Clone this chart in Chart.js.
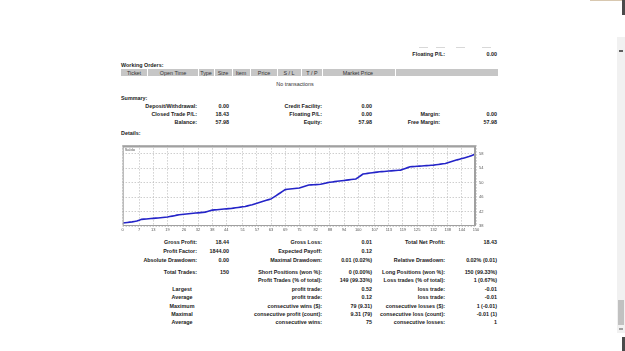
<!DOCTYPE html>
<html>
<head>
<meta charset="utf-8">
<script src="https://cdn.jsdelivr.net/npm/chart.js@4/dist/chart.umd.min.js"></script>
<style>
  html, body { margin: 0; padding: 0; background: #fff; }
  body { width: 625px; height: 351px; position: relative; overflow: hidden;
         font-family: "Liberation Sans", Arial, sans-serif; color: #222; }
  .t { position: absolute; white-space: nowrap; font-size: 5.4px; line-height: 6px; font-weight: bold; }
  .n { font-weight: normal; color: #333; }
  .box { position: absolute; }
  #chartWrap { position: absolute; left: 112px; top: 140px; width: 390px; height: 96px; }
</style>
</head>
<body>
<div id="chartWrap"><canvas id="saldoChart" width="390" height="96"></canvas></div>

<script>
// Balance curve (one value per closed trade)
const balance = [
  38.82, 38.90, 38.99, 39.07, 39.15, 39.26, 39.37, 39.62, 39.84, 39.90,
  39.95, 40.01, 40.06, 40.12, 40.18, 40.23, 40.29, 40.35, 40.41, 40.47,
  40.61, 40.73, 40.86, 41.00, 41.13, 41.19, 41.25, 41.32, 41.38, 41.45,
  41.51, 41.58, 41.64, 41.71, 41.77, 41.84, 42.03, 42.21, 42.39, 42.45,
  42.51, 42.57, 42.63, 42.69, 42.75, 42.80, 42.86, 42.95, 43.05, 43.14,
  43.23, 43.32, 43.41, 43.57, 43.72, 43.87, 44.08, 44.28, 44.49, 44.69,
  44.89, 45.10, 45.30, 45.50, 45.92, 46.35, 46.78, 47.21, 47.64, 48.07,
  48.15, 48.23, 48.30, 48.38, 48.46, 48.53, 48.74, 48.95, 49.15, 49.36,
  49.39, 49.43, 49.46, 49.50, 49.53, 49.69, 49.84, 50.00, 50.09, 50.18,
  50.28, 50.37, 50.46, 50.54, 50.61, 50.69, 50.77, 50.85, 50.92, 51.00,
  51.46, 51.91, 52.37, 52.46, 52.56, 52.65, 52.74, 52.83, 52.91, 53.00,
  53.05, 53.10, 53.16, 53.21, 53.26, 53.31, 53.37, 53.42, 53.47, 53.70,
  53.93, 54.15, 54.38, 54.43, 54.47, 54.52, 54.56, 54.61, 54.66, 54.70,
  54.75, 54.79, 54.84, 54.93, 55.02, 55.12, 55.21, 55.30, 55.50, 55.70,
  55.90, 56.10, 56.30, 56.48, 56.66, 56.84, 57.02, 57.20, 57.46, 57.72,
  57.98
];

// Axis tick labels
const xTicks = [0, 7, 13, 19, 26, 32, 38, 44, 51, 57, 63, 69, 75, 82, 88, 94, 100, 107, 113, 119, 125, 132, 138, 144, 150];
const yTicks = [38, 42, 46, 50, 54, 58];

// Report tables
const orderHeaders = ['Ticket', 'Open Time', 'Type', 'Size', 'Item', 'Price', 'S / L', 'T / P', 'Market Price', ''];
const summaryRows = [
  ['Deposit/Withdrawal:', '0.00', 'Credit Facility:', '0.00', '', ''],
  ['Closed Trade P/L:', '18.43', 'Floating P/L:', '0.00', 'Margin:', '0.00'],
  ['Balance:', '57.98', 'Equity:', '57.98', 'Free Margin:', '57.98']
];
const detailRows = [
  ['Gross Profit:', '18.44', 'Gross Loss:', '0.01', 'Total Net Profit:', '18.43'],
  ['Profit Factor:', '1844.00', 'Expected Payoff:', '0.12', '', ''],
  ['Absolute Drawdown:', '0.00', 'Maximal Drawdown:', '0.01 (0.02%)', 'Relative Drawdown:', '0.02% (0.01)'],
  ['Total Trades:', '150', 'Short Positions (won %):', '0 (0.00%)', 'Long Positions (won %):', '150 (99.33%)'],
  ['', '', 'Profit Trades (% of total):', '149 (99.33%)', 'Loss trades (% of total):', '1 (0.67%)']
];
const streakRows = [
  ['Largest', 'profit trade:', '0.52', 'loss trade:', '-0.01'],
  ['Average', 'profit trade:', '0.12', 'loss trade:', '-0.01'],
  ['Maximum', 'consecutive wins ($):', '79 (9.31)', 'consecutive losses ($):', '1 (-0.01)'],
  ['Maximal', 'consecutive profit (count):', '9.31 (79)', 'consecutive loss (count):', '-0.01 (1)'],
  ['Average', 'consecutive wins:', '75', 'consecutive losses:', '1']
];

// petit helper pour poser un texte
function put(text, x, y, align, cls) {
  if (text === '') return;
  const d = document.createElement('div');
  d.className = 't' + (cls ? ' ' + cls : '');
  d.textContent = text;
  d.style.top = (y - 3) + 'px';
  if (align === 'r') {
    d.style.left = (x - 200) + 'px'; d.style.width = '200px'; d.style.textAlign = 'right';
  } else if (align === 'c') {
    d.style.left = (x - 100) + 'px'; d.style.width = '200px'; d.style.textAlign = 'center';
  } else {
    d.style.left = x + 'px';
  }
  document.body.appendChild(d);
}
function rect(x, y, w, h, color) {
  const d = document.createElement('div');
  d.className = 'box';
  d.style.cssText += `left:${x}px;top:${y}px;width:${w}px;height:${h}px;background:${color};`;
  document.body.appendChild(d);
}

// bout de ligne coupé en haut
[419, 436, 456, 482].forEach(x => rect(x, 47, 9, 1, '#d8d8d8'));
put('Floating P/L:', 445, 54, 'r');
put('0.00', 497, 54, 'r');

// Working orders
put('Working Orders:', 121, 65, 'l');
rect(121, 69, 377, 7, '#c6c6c6');
const sepX = [147, 198, 214, 232, 250, 277, 301, 322, 395];
sepX.forEach(x => rect(x, 69, 1, 7, '#fff'));
const colMid = [134, 173, 206, 223, 241, 264, 289, 312, 358];
orderHeaders.forEach((h, i) => { if (i < colMid.length) put(h, colMid[i], 72.5, 'c', 'n'); });
put('No transactions', 295, 84, 'c', 'n');

// Summary
put('Summary:', 121, 97.5, 'l');
const sumY = [105.7, 114, 122.3];
summaryRows.forEach((r, i) => {
  put(r[0], 197, sumY[i], 'r'); put(r[1], 229, sumY[i], 'r');
  put(r[2], 322, sumY[i], 'r'); put(r[3], 372, sumY[i], 'r');
  put(r[4], 440, sumY[i], 'r'); put(r[5], 497, sumY[i], 'r');
});
put('Details:', 121, 132.5, 'l');

// Details
const detY = [242.3, 250.7, 259.5, 271.5, 280];
detailRows.forEach((r, i) => {
  put(r[0], 197, detY[i], 'r'); put(r[1], 229, detY[i], 'r');
  put(r[2], 322, detY[i], 'r'); put(r[3], 372, detY[i], 'r');
  put(r[4], 445, detY[i], 'r'); put(r[5], 497, detY[i], 'r');
});
const strY = [288.8, 297.2, 305.5, 313.8, 322.2];
streakRows.forEach((r, i) => {
  put(r[0], 182, strY[i], 'c');
  put(r[1], 322, strY[i], 'r'); put(r[2], 372, strY[i], 'r');
  put(r[3], 445, strY[i], 'r'); put(r[4], 497, strY[i], 'r');
});

// barre de défilement du navigateur
rect(617, 37, 8, 296, '#f1f1f1');
rect(619, 50, 4, 2, '#606060');
rect(619, 328, 4, 2, '#a0a0a0');
rect(618, 300, 6, 25, '#c1c1c1');
rect(622, 0, 3, 15, '#4a4a4a');
rect(622, 337, 3, 14, '#4a4a4a');
rect(590, 0, 32, 1, '#d8c8b0');

// Cadre + libellé "Saldo"
const framePlugin = {
  id: 'frame',
  afterDraw(chart) {
    const { ctx, chartArea: a } = chart;
    ctx.save();
    ctx.strokeStyle = '#a0a0a0';
    ctx.lineWidth = 1;
    ctx.strokeRect(a.left + 0.5, a.top + 0.5, a.right - a.left - 1, a.bottom - a.top - 1);
    ctx.lineWidth = 2;
    ctx.beginPath();
    ctx.moveTo(a.left, a.top + 1); ctx.lineTo(a.right - 1, a.top + 1); ctx.lineTo(a.right - 1, a.bottom);
    ctx.stroke();
    ctx.fillStyle = '#555';
    ctx.font = '4px "Liberation Sans", Arial';
    ctx.textBaseline = 'top';
    ctx.fillText('Saldo', a.left + 2, a.top + 2.5);
    ctx.restore();
  }
};

const ctx = document.getElementById('saldoChart').getContext('2d');
const saldoChart = new Chart(ctx, {
  type: 'line',
  data: {
    labels: balance.map((_, i) => i),
    datasets: [{
      label: 'Saldo',
      data: balance.map((v, i) => ({ x: i, y: v })),
      borderColor: '#2424c8',
      borderWidth: 1.6,
      pointRadius: 0,
      tension: 0,
      fill: false
    }]
  },
  options: {
    responsive: false,
    animation: false,
    devicePixelRatio: 1,
    layout: { padding: { left: 10.7, top: 4.7, right: 0, bottom: 0 } },
    plugins: { legend: { display: false }, tooltip: { enabled: false } },
    scales: {
      x: {
        type: 'linear', min: 0, max: 150,
        afterBuildTicks: s => { s.ticks = xTicks.map(v => ({ value: v })); },
        afterFit: s => { s.height = 10; },
        ticks: { font: { size: 4, family: 'Liberation Sans' }, color: '#555', maxRotation: 0, autoSkip: false, padding: 1.5 },
        grid: { color: '#b8b8b8', drawTicks: false, lineWidth: 1 },
        border: { display: false, dash: [1, 2] }
      },
      y: {
        position: 'right', min: 38, max: 60.3,
        afterBuildTicks: s => { s.ticks = yTicks.map(v => ({ value: v })); },
        afterFit: s => { s.width = 26; },
        ticks: { font: { size: 4, family: 'Liberation Sans' }, color: '#555', padding: 3 },
        grid: { color: '#b8b8b8', drawTicks: false, lineWidth: 1 },
        border: { display: false, dash: [1, 2] }
      }
    }
  },
  plugins: [framePlugin]
});
</script>
</body>
</html>
